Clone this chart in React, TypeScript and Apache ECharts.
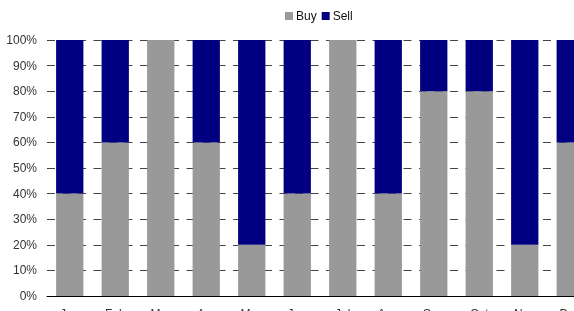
import React, { useEffect, useRef } from "react";
import * as echarts from "echarts";

const categories = ["Jan", "Feb", "Mar", "Apr", "May", "Jun", "Jul", "Aug", "Sep", "Oct", "Nov", "Dec"];
const buyValues = [40, 60, 100, 60, 20, 40, 100, 40, 80, 80, 20, 60];
const sellValues = [60, 40, 0, 40, 80, 60, 0, 60, 20, 20, 80, 40];

export default function App() {
  const ref = useRef<HTMLDivElement>(null);
  useEffect(() => {
    if (!ref.current) return;
    const chart = echarts.init(ref.current, null, { renderer: "svg" });
    const font = "'Liberation Sans', Arial, sans-serif";
    chart.setOption({
      animation: false,
      textStyle: { fontFamily: font },
      legend: {
        left: 285,
        top: 10,
        padding: 0,
        itemWidth: 8,
        itemHeight: 8,
        itemGap: 5,
        icon: "rect",
        textStyle: { fontSize: 12, color: "#111", fontFamily: font, padding: [0, 0, 0, -2] },
        data: ["Buy", "Sell"],
      },
      grid: { left: 47, top: 40, bottom: 15, right: -19, containLabel: false, outerBoundsMode: "none" },
      xAxis: {
        type: "category",
        data: categories,
        axisLine: { show: true, lineStyle: { color: "#000", width: 1 } },
        axisTick: { show: false },
        axisLabel: { fontSize: 12, color: "#333", margin: 12, fontFamily: font },
      },
      yAxis: {
        type: "value",
        min: 0,
        max: 100,
        interval: 10,
        axisLine: { show: false },
        axisTick: { show: false },
        axisLabel: { formatter: "{value}%", fontSize: 12, color: "#333", margin: 10, fontFamily: font },
        splitLine: { show: true, lineStyle: { color: "#444", width: 1, type: [8, 7.5] } },
      },
      series: [
        {
          name: "Buy",
          type: "bar",
          stack: "total",
          data: buyValues,
          barCategoryGap: "40%",
          itemStyle: { color: "#999999" },
        },
        {
          name: "Sell",
          type: "bar",
          stack: "total",
          data: sellValues,
          barCategoryGap: "40%",
          itemStyle: { color: "#000080" },
        },
      ],
    });
    return () => chart.dispose();
  }, []);
  return (
    <div
      ref={ref}
      style={{ position: "fixed", left: 0, top: 0, width: 574, height: 311, overflow: "hidden" }}
    />
  );
}
